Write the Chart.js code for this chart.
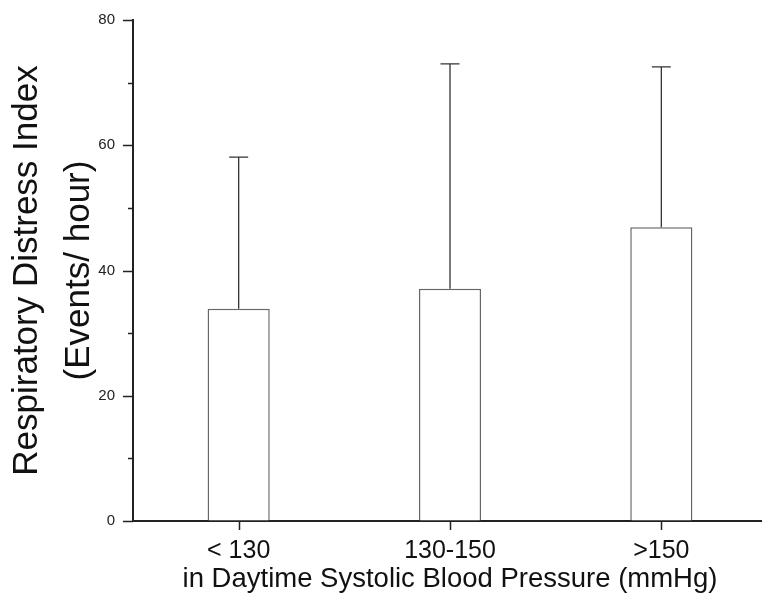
<!DOCTYPE html>
<html>
<head>
<meta charset="utf-8">
<script src="https://cdn.jsdelivr.net/npm/chart.js@4/dist/chart.umd.min.js"></script>
<style>
  html, body { margin: 0; padding: 0; background: #fff; overflow: hidden; }
  #wrap { width: 767px; height: 605px; }
</style>
</head>
<body>
<div id="wrap"><canvas id="chart" width="767" height="605"></canvas></div>
<script>
// dados
const categories = ['< 130', '130-150', '>150'];
const meanRDI = [33.9, 37.1, 46.9];
const sdRDI = [24.2, 35.9, 25.6];
const yTicks = [0, 10, 20, 30, 40, 50, 60, 70, 80];

const FONT = '"Liberation Sans", Arial, sans-serif';

// desenha as barras de erro (só para cima) e as marcas dos eixos
const errorBars = {
    id: 'errorBars',
    afterDatasetsDraw(chart) {
        const ctx = chart.ctx;
        const meta = chart.getDatasetMeta(0);
        const y = chart.scales.y;
        ctx.save();
        ctx.strokeStyle = '#333';
        ctx.lineWidth = 1.3;
        meta.data.forEach((bar, i) => {
            const top = y.getPixelForValue(meanRDI[i] + sdRDI[i]);
            ctx.beginPath();
            ctx.moveTo(bar.x, bar.y);
            ctx.lineTo(bar.x, top);
            ctx.moveTo(bar.x - 9.5, top);
            ctx.lineTo(bar.x + 9.5, top);
            ctx.stroke();
        });
        ctx.restore();
    },
    afterDraw(chart) {
        const ctx = chart.ctx;
        const x = chart.scales.x;
        const y = chart.scales.y;
        const area = chart.chartArea;
        ctx.save();
        ctx.strokeStyle = '#222';
        ctx.lineWidth = 1.5;
        ctx.beginPath();
        yTicks.forEach(v => {
            const py = Math.round(y.getPixelForValue(v)) + 0.5;
            const len = v % 20 === 0 ? 10 : 5;
            ctx.moveTo(area.left - len, py);
            ctx.lineTo(area.left, py);
        });
        categories.forEach((c, i) => {
            const px = Math.round(x.getPixelForValue(i)) + 0.5;
            ctx.moveTo(px, area.bottom);
            ctx.lineTo(px, area.bottom + 9);
        });
        ctx.stroke();
        ctx.restore();
    }
};

const chart = new Chart(document.getElementById('chart'), {
    type: 'bar',
    data: {
        labels: categories,
        datasets: [{
            data: meanRDI,
            backgroundColor: '#ffffff',
            borderColor: '#666',
            borderWidth: 1.5,
            barPercentage: 0.294,
            categoryPercentage: 1
        }]
    },
    options: {
        responsive: false,
        animation: false,
        layout: { padding: { top: 20, right: 0, left: 0, bottom: 0 } },
        plugins: {
            legend: { display: false },
            tooltip: { enabled: false }
        },
        scales: {
            x: {
                grid: { display: true, drawOnChartArea: false, drawTicks: false },
                border: { display: true, color: '#222', width: 2 },
                ticks: {
                    color: '#111',
                    padding: 15,
                    font: { family: FONT, size: 25 }
                },
                title: {
                    display: true,
                    text: 'in Daytime Systolic Blood Pressure (mmHg)',
                    color: '#111',
                    font: { family: FONT, size: 27.5, lineHeight: 1.2 },
                    padding: { top: 0, bottom: 9 }
                },
                afterFit(scale) { scale.height = 84; }
            },
            y: {
                min: 0,
                max: 80,
                grid: { display: true, drawOnChartArea: false, drawTicks: false },
                border: { display: true, color: '#222', width: 2 },
                ticks: {
                    stepSize: 10,
                    color: '#222',
                    padding: 18,
                    font: { family: FONT, size: 15 },
                    callback: v => (v % 20 === 0 ? v : '')
                },
                title: {
                    display: true,
                    text: ['Respiratory Distress Index', '(Events/ hour)'],
                    color: '#111',
                    font: { family: FONT, size: 35, lineHeight: 1.5 },
                    padding: { top: 1, bottom: 0 }
                },
                afterFit(scale) {
                    scale.width = 133;
                    // o padding dos rótulos não deve empurrar a área do gráfico
                    scale.paddingTop = 8;
                    scale.paddingBottom = 8;
                }
            }
        }
    },
    plugins: [errorBars]
});
</script>
</body>
</html>
